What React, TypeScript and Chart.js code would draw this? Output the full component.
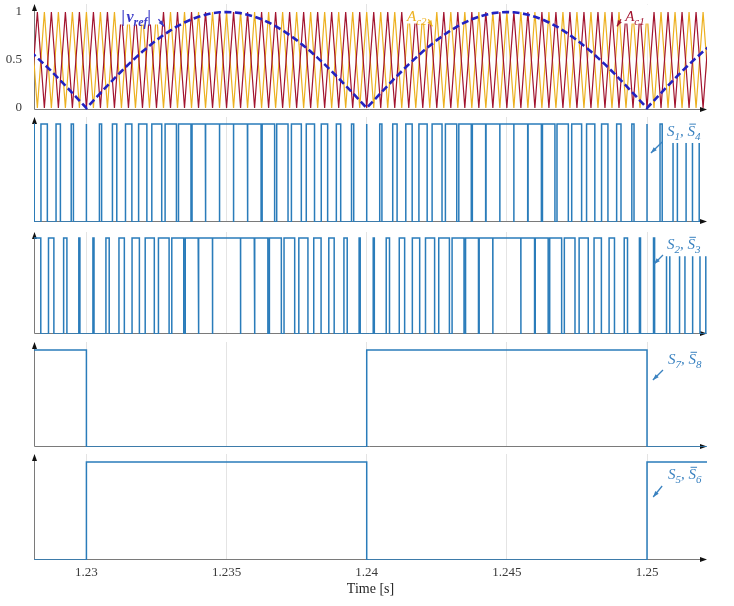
import { useEffect, useRef } from 'react';
import { Chart, registerables } from 'chart.js';
Chart.register(...registerables);

// ---------- data ----------
const sampleTimes = [
  1.2275, 1.22775, 1.228, 1.22825, 1.2285, 1.22875, 1.229, 1.22925, 1.2295, 1.22975,
  1.23, 1.23025, 1.2305, 1.23075, 1.231, 1.23125, 1.2315, 1.23175, 1.232, 1.23225,
  1.2325, 1.23275, 1.233, 1.23325, 1.2335, 1.23375, 1.234, 1.23425, 1.2345, 1.23475,
  1.235, 1.23525, 1.2355, 1.23575, 1.236, 1.23625, 1.2365, 1.23675, 1.237, 1.23725,
  1.2375, 1.23775, 1.238, 1.23825, 1.2385, 1.23875, 1.239, 1.23925, 1.2395, 1.23975,
  1.24, 1.24025, 1.2405, 1.24075, 1.241, 1.24125, 1.2415, 1.24175, 1.242, 1.24225,
  1.2425, 1.24275, 1.243, 1.24325, 1.2435, 1.24375, 1.244, 1.24425, 1.2445, 1.24475,
  1.245, 1.24525, 1.2455, 1.24575, 1.246, 1.24625, 1.2465, 1.24675, 1.247, 1.24725,
  1.2475, 1.24775, 1.248, 1.24825, 1.2485, 1.24875, 1.249, 1.24925, 1.2495, 1.24975,
  1.25, 1.25025, 1.2505, 1.25075, 1.251, 1.25125, 1.2515, 1.25175, 1.252, 1.25225,
  1.2525,
];

const vrefAbs = [
  0.707, 0.649, 0.588, 0.522, 0.454, 0.383, 0.309, 0.233, 0.156, 0.078,
  0, 0.078, 0.156, 0.233, 0.309, 0.383, 0.454, 0.522, 0.588, 0.649,
  0.707, 0.76, 0.809, 0.853, 0.891, 0.924, 0.951, 0.972, 0.988, 0.997,
  1, 0.997, 0.988, 0.972, 0.951, 0.924, 0.891, 0.853, 0.809, 0.76,
  0.707, 0.649, 0.588, 0.522, 0.454, 0.383, 0.309, 0.233, 0.156, 0.078,
  0, 0.078, 0.156, 0.233, 0.309, 0.383, 0.454, 0.522, 0.588, 0.649,
  0.707, 0.76, 0.809, 0.853, 0.891, 0.924, 0.951, 0.972, 0.988, 0.997,
  1, 0.997, 0.988, 0.972, 0.951, 0.924, 0.891, 0.853, 0.809, 0.76,
  0.707, 0.649, 0.588, 0.522, 0.454, 0.383, 0.309, 0.233, 0.156, 0.078,
  0, 0.078, 0.156, 0.233, 0.309, 0.383, 0.454, 0.522, 0.588, 0.649,
  0.707,
];

const carrierAc1 = [
  0, 1, 0, 1, 0, 1, 0, 1, 0, 1,
  0, 1, 0, 1, 0, 1, 0, 1, 0, 1,
  0, 1, 0, 1, 0, 1, 0, 1, 0, 1,
  0, 1, 0, 1, 0, 1, 0, 1, 0, 1,
  0, 1, 0, 1, 0, 1, 0, 1, 0, 1,
  0, 1, 0, 1, 0, 1, 0, 1, 0, 1,
  0, 1, 0, 1, 0, 1, 0, 1, 0, 1,
  0, 1, 0, 1, 0, 1, 0, 1, 0, 1,
  0, 1, 0, 1, 0, 1, 0, 1, 0, 1,
  0, 1, 0, 1, 0, 1, 0, 1, 0, 1,
  0,
];

const carrierAc2 = [
  1, 0, 1, 0, 1, 0, 1, 0, 1, 0,
  1, 0, 1, 0, 1, 0, 1, 0, 1, 0,
  1, 0, 1, 0, 1, 0, 1, 0, 1, 0,
  1, 0, 1, 0, 1, 0, 1, 0, 1, 0,
  1, 0, 1, 0, 1, 0, 1, 0, 1, 0,
  1, 0, 1, 0, 1, 0, 1, 0, 1, 0,
  1, 0, 1, 0, 1, 0, 1, 0, 1, 0,
  1, 0, 1, 0, 1, 0, 1, 0, 1, 0,
  1, 0, 1, 0, 1, 0, 1, 0, 1, 0,
  1, 0, 1, 0, 1, 0, 1, 0, 1, 0,
  1,
];

const polarityTimes = [1.2275, 1.23, 1.24, 1.25, 1.2525];
const s7Levels = [1, 0, 1, 0, 0];
const s5Levels = [0, 1, 0, 1, 1];

const xTickValues = [1.23, 1.235, 1.24, 1.245, 1.25];
const xTickLabels = ['1.23', '1.235', '1.24', '1.245', '1.25'];
const yTickValues = [0, 0.5, 1];
const yTickLabels = ['0', '0.5', '1'];

const X_MIN = 1.22813;
const X_MAX = 1.25214;

// ---------- styles ----------
const SERIF = '"Liberation Serif", "DejaVu Serif", serif';
const SIG_BLUE = '#2a7cba';
const TXT_BLUE = '#3a82c0';
const RED = '#A2142F';
const YELLOW = '#EDB120';
const VREF = '#2222c2';

// ---------- helpers (built from the arrays above) ----------
type Pt = { x: number; y: number };
const toPts = (ys: number[]): Pt[] => sampleTimes.map((t, i) => ({ x: t, y: ys[i] }));

function comparePwm(ref: number[], carrier: number[]): Pt[] {
  const pts: Pt[] = [];
  let s = ref[0] - carrier[0] >= 0 ? 1 : 0;
  pts.push({ x: sampleTimes[0], y: s });
  for (let i = 0; i < sampleTimes.length - 1; i++) {
    const d0 = ref[i] - carrier[i];
    const d1 = ref[i + 1] - carrier[i + 1];
    const s1 = d1 >= 0 ? 1 : 0;
    if (s1 !== s) {
      const t0 = sampleTimes[i];
      const t1 = sampleTimes[i + 1];
      const tc = d0 === d1 ? t1 : t0 + ((t1 - t0) * d0) / (d0 - d1);
      pts.push({ x: tc, y: s }, { x: tc, y: s1 });
      s = s1;
    }
  }
  pts.push({ x: sampleTimes[sampleTimes.length - 1], y: s });
  return pts;
}

function stepPts(times: number[], levels: number[]): Pt[] {
  const pts: Pt[] = [];
  times.forEach((t, i) => {
    if (i > 0) pts.push({ x: t, y: levels[i - 1] });
    pts.push({ x: t, y: levels[i] });
  });
  return pts;
}

type Part = { s: string; sub?: boolean; bar?: boolean };
type Note = {
  t: number;
  v: number;
  parts: Part[];
  color: string;
  bold?: boolean;
  size: number;
  box?: [number, number, number, number];
  arrow: [number, number, number, number];
  clip?: boolean;
};

function makeDeco(notes: Note[]) {
  return {
    id: 'panelDeco',
    beforeDatasetsDraw(chart: any) {
      const { ctx, chartArea: a } = chart;
      ctx.save();
      ctx.strokeStyle = '#7a7a7a';
      ctx.lineWidth = 1;
      const lx = Math.round(a.left) + 0.5;
      const by = Math.round(a.bottom) - 0.5;
      ctx.beginPath();
      ctx.moveTo(lx, by);
      ctx.lineTo(lx, a.top + 3);
      ctx.moveTo(lx, by);
      ctx.lineTo(a.right - 3, by);
      ctx.stroke();
      ctx.fillStyle = '#111';
      ctx.beginPath();
      ctx.moveTo(lx, a.top);
      ctx.lineTo(lx - 2.5, a.top + 7);
      ctx.lineTo(lx + 2.5, a.top + 7);
      ctx.closePath();
      ctx.fill();
      ctx.beginPath();
      ctx.moveTo(a.right, by);
      ctx.lineTo(a.right - 7, by - 2.5);
      ctx.lineTo(a.right - 7, by + 2.5);
      ctx.closePath();
      ctx.fill();
      ctx.restore();
    },
    afterDatasetsDraw(chart: any) {
      const { ctx, chartArea: a, scales } = chart;
      const xs = scales.x;
      const ys = scales.y;
      for (const n of notes) {
        ctx.save();
        if (n.box) {
          const [t0, t1, v0, v1] = n.box;
          const x0 = xs.getPixelForValue(t0);
          const x1 = Math.min(xs.getPixelForValue(t1), a.right + 1);
          const y0 = ys.getPixelForValue(v1);
          const y1 = ys.getPixelForValue(v0);
          ctx.fillStyle = '#ffffff';
          ctx.fillRect(x0, y0, x1 - x0, y1 - y0);
        }
        if (n.clip) {
          ctx.beginPath();
          ctx.rect(0, 0, a.right + 1, chart.height);
          ctx.clip();
        }
        // arrow
        const ax1 = xs.getPixelForValue(n.arrow[0]);
        const ay1 = ys.getPixelForValue(n.arrow[1]);
        const ax2 = xs.getPixelForValue(n.arrow[2]);
        const ay2 = ys.getPixelForValue(n.arrow[3]);
        ctx.strokeStyle = n.color;
        ctx.fillStyle = n.color;
        ctx.lineWidth = 1.3;
        ctx.beginPath();
        ctx.moveTo(ax1, ay1);
        ctx.lineTo(ax2, ay2);
        ctx.stroke();
        const ang = Math.atan2(ay2 - ay1, ax2 - ax1);
        ctx.beginPath();
        ctx.moveTo(ax2, ay2);
        ctx.lineTo(ax2 - 6 * Math.cos(ang) + 2.2 * Math.sin(ang), ay2 - 6 * Math.sin(ang) - 2.2 * Math.cos(ang));
        ctx.lineTo(ax2 - 6 * Math.cos(ang) - 2.2 * Math.sin(ang), ay2 - 6 * Math.sin(ang) + 2.2 * Math.cos(ang));
        ctx.closePath();
        ctx.fill();
        // text
        let px = xs.getPixelForValue(n.t);
        const base = ys.getPixelForValue(n.v) + n.size * 0.34;
        ctx.textBaseline = 'alphabetic';
        ctx.textAlign = 'left';
        for (const p of n.parts) {
          const fs = p.sub ? Math.round(n.size * 0.72) : n.size;
          ctx.font = `italic ${n.bold ? 'bold ' : ''}${fs}px ${SERIF}`;
          const yy = p.sub ? base + n.size * 0.25 : base;
          ctx.fillText(p.s, px, yy);
          const w = ctx.measureText(p.s).width;
          if (p.bar) ctx.fillRect(px + 2, base - n.size * 0.82, w - 1, 1);
          px += w + (p.s === '|' ? 1.5 : 0);
        }
        ctx.restore();
      }
    },
  };
}

const sLabel = (a: string, b: string): Part[] => [
  { s: 'S' },
  { s: a, sub: true },
  { s: ', ' },
  { s: 'S', bar: true },
  { s: b, sub: true },
];

type Panel = {
  top: number;
  height: number;
  padTop: number;
  padBottom: number;
  xHeight: number;
  yMin: number;
  yMax: number;
  showX: boolean;
  showY: boolean;
  datasets: any[];
  notes: Note[];
};

const lineDs = (data: Pt[], color: string, width: number, extra: any = {}) => ({
  data,
  borderColor: color,
  borderWidth: width,
  pointRadius: 0,
  tension: 0,
  fill: false,
  ...extra,
});

function buildPanels(): Panel[] {
  return [
    {
      top: 0, height: 113, padTop: 4, padBottom: 3, xHeight: 0,
      yMin: -0.0208, yMax: 1.0833, showX: false, showY: true,
      datasets: [
        lineDs(toPts(vrefAbs), VREF, 2.6, { borderDash: [7, 3.5] }),
        lineDs(toPts(carrierAc1), RED, 1.2),
        lineDs(toPts(carrierAc2), YELLOW, 1.2),
      ],
      notes: [
        {
          t: 1.23125, v: 0.955, size: 16, bold: true, color: '#3a3ac8',
          parts: [{ s: '|' }, { s: 'v' }, { s: 'ref', sub: true }, { s: '|' }],
          box: [1.23116, 1.23264, 0.87, 1.078],
          arrow: [1.23257, 0.925, 1.23277, 0.85],
        },
        {
          t: 1.24144, v: 0.96, size: 15, color: YELLOW,
          parts: [{ s: 'A' }, { s: 'c2', sub: true }],
          box: [1.24134, 1.2423, 0.88, 1.078],
          arrow: [1.2422, 0.925, 1.24234, 0.85],
        },
        {
          t: 1.24922, v: 0.96, size: 15, color: RED,
          parts: [{ s: 'A' }, { s: 'c1', sub: true }],
          box: [1.24911, 1.25012, 0.88, 1.078],
          arrow: [1.24907, 0.925, 1.24893, 0.85],
        },
      ],
    },
    {
      top: 114, height: 111, padTop: 3, padBottom: 3, xHeight: 0,
      yMin: 0, yMax: 1.071, showX: false, showY: false,
      datasets: [lineDs(comparePwm(vrefAbs, carrierAc1), SIG_BLUE, 1.5)],
      notes: [
        {
          t: 1.25071, v: 0.93, size: 15, color: TXT_BLUE, parts: sLabel('1', '4'),
          box: [1.25064, 1.2523, 0.806, 1.08],
          arrow: [1.25054, 0.816, 1.25014, 0.704], clip: true,
        },
      ],
    },
    {
      top: 229, height: 108, padTop: 3, padBottom: 3, xHeight: 0,
      yMin: 0, yMax: 1.0625, showX: false, showY: false,
      datasets: [lineDs(comparePwm(vrefAbs, carrierAc2), SIG_BLUE, 1.5)],
      notes: [
        {
          t: 1.25071, v: 0.9375, size: 15, color: TXT_BLUE, parts: sLabel('2', '3'),
          box: [1.25064, 1.2523, 0.81, 1.07],
          arrow: [1.25057, 0.823, 1.25025, 0.729], clip: true,
        },
      ],
    },
    {
      top: 339, height: 111, padTop: 3, padBottom: 3, xHeight: 0,
      yMin: 0, yMax: 1.082, showX: false, showY: false,
      datasets: [lineDs(stepPts(polarityTimes, s7Levels), SIG_BLUE, 1.5)],
      notes: [
        {
          t: 1.25075, v: 0.907, size: 15, color: TXT_BLUE, parts: sLabel('7', '8'),
          arrow: [1.25057, 0.794, 1.25021, 0.691], clip: true,
        },
      ],
    },
    {
      top: 451, height: 155, padTop: 3, padBottom: 0, xHeight: 46,
      yMin: 0, yMax: 1.082, showX: true, showY: false,
      datasets: [lineDs(stepPts(polarityTimes, s5Levels), SIG_BLUE, 1.5)],
      notes: [
        {
          t: 1.25075, v: 0.878, size: 15, color: TXT_BLUE, parts: sLabel('5', '6'),
          arrow: [1.25054, 0.755, 1.25022, 0.643], clip: true,
        },
      ],
    },
  ];
}

function makeConfig(p: Panel): any {
  return {
    type: 'line',
    data: { datasets: p.datasets },
    options: {
      responsive: false,
      animation: false,
      devicePixelRatio: 1,
      layout: { padding: { left: 0, right: 27, top: p.padTop, bottom: p.padBottom }, autoPadding: false },
      plugins: { legend: { display: false }, tooltip: { enabled: false } },
      scales: {
        x: {
          type: 'linear',
          min: X_MIN,
          max: X_MAX,
          afterBuildTicks: (s: any) => {
            s.ticks = xTickValues.map((v) => ({ value: v }));
          },
          afterFit: (s: any) => {
            s.height = p.xHeight;
            s.paddingLeft = 0;
            s.paddingRight = 0;
          },
          grid: { color: '#e4e4e4', lineWidth: 1, drawTicks: false },
          border: { display: false },
          ticks: {
            display: p.showX,
            padding: 5,
            color: '#3a3a3a',
            font: { family: SERIF, size: 13 },
            callback: (_v: any, i: number) => xTickLabels[i] ?? '',
          },
          title: {
            display: p.showX,
            text: 'Time [s]',
            color: '#262626',
            font: { family: SERIF, size: 14 },
            padding: { top: 0, bottom: 8 },
          },
        },
        y: {
          type: 'linear',
          min: p.yMin,
          max: p.yMax,
          afterBuildTicks: (s: any) => {
            s.ticks = yTickValues.map((v) => ({ value: v }));
          },
          afterFit: (s: any) => {
            s.width = 34;
            s.paddingTop = 0;
            s.paddingBottom = 0;
          },
          grid: { display: false },
          border: { display: false },
          ticks: {
            display: p.showY,
            padding: 4,
            color: '#3a3a3a',
            font: { family: SERIF, size: 13 },
            callback: (_v: any, i: number) => yTickLabels[i] ?? '',
          },
        },
      },
    },
    plugins: [makeDeco(p.notes)],
  };
}

export default function App() {
  const refs = useRef<(HTMLCanvasElement | null)[]>([]);
  const panels = buildPanels();

  useEffect(() => {
    const ps = buildPanels();
    const charts = ps.map((p, i) => new Chart(refs.current[i] as HTMLCanvasElement, makeConfig(p)));
    return () => charts.forEach((c) => c.destroy());
  }, []);

  return (
    <div style={{ position: 'absolute', left: 0, top: 0, width: 734, height: 606, background: '#fff', overflow: 'hidden' }}>
      {panels.map((p, i) => (
        <canvas
          key={i}
          ref={(el) => {
            refs.current[i] = el;
          }}
          width={734}
          height={p.height}
          style={{ position: 'absolute', left: 0, top: p.top, width: 734, height: p.height }}
        />
      ))}
    </div>
  );
}
